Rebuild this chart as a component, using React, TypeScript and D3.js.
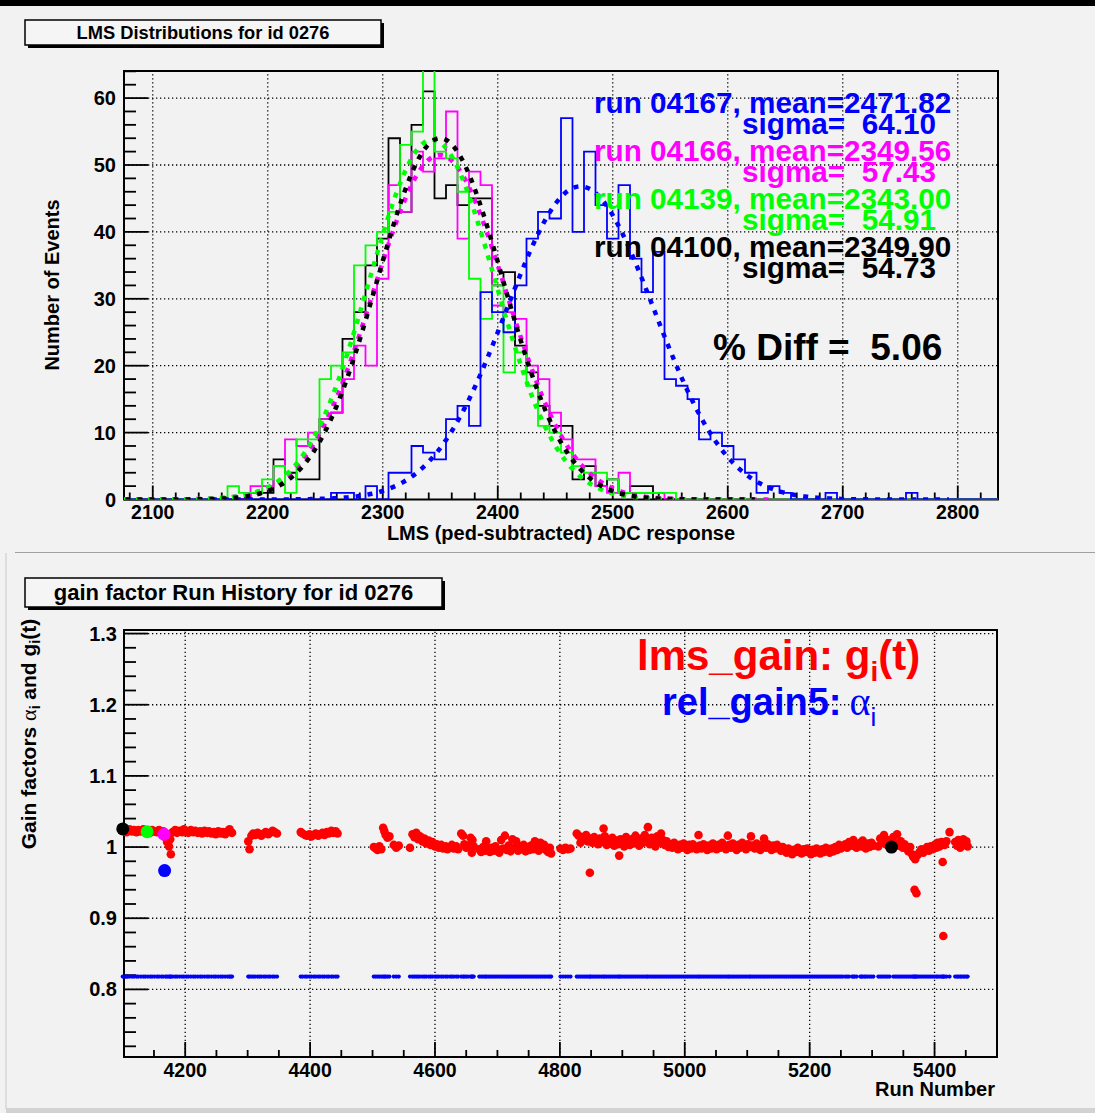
import React from 'react'
import * as d3 from 'd3'

const FONT = 'Liberation Sans, Arial, Helvetica, sans-serif'
const BG = '#f2f2f2'
const NBSP = '\u00a0'

// ---------- top pad: LMS distributions ----------
// 76 bins of width 10 starting at 2075 (bin 0 is centred at 2080)
const histLow = 2075
const histBinWidth = 10

const runNames = ['04100', '04139', '04166', '04167']
const runColors = ['#000000', '#00ff00', '#ff00ff', '#0000ff']

const counts04100 = [
  0, 0, 0, 0, 0, 0, 0, 0, 0, 0,
  0, 1, 1, 6, 4, 3, 3, 12, 13, 24,
  28, 35, 39, 54, 43, 56, 61, 45, 47, 44,
  45, 45, 32, 34, 23, 19, 14, 11, 11, 3,
  5, 2, 3, 1, 2, 2, 0, 0, 0, 0,
  0, 0, 0, 0, 0, 0, 0, 0, 0, 0,
  0, 0, 0, 0, 0, 0, 0, 0, 0, 0,
  0, 0, 0, 0, 0, 0,
]
const counts04139 = [
  0, 0, 0, 0, 0, 0, 0, 0, 0, 2,
  1, 1, 3, 5, 1, 9, 9, 18, 20, 22,
  35, 38, 40, 43, 53, 55, 66, 52, 51, 46,
  33, 27, 32, 19, 22, 17, 11, 10, 7, 5,
  4, 4, 3, 1, 1, 1, 1, 1, 0, 0,
  0, 0, 0, 0, 0, 0, 0, 0, 0, 0,
  0, 0, 0, 0, 0, 0, 0, 0, 0, 0,
  0, 0, 0, 0, 0, 0,
]
const counts04166 = [
  0, 0, 0, 0, 0, 0, 0, 0, 0, 0,
  0, 2, 2, 5, 9, 8, 10, 12, 13, 18,
  23, 20, 33, 47, 43, 52, 49, 51, 58, 39,
  49, 47, 29, 28, 27, 20, 18, 13, 9, 6,
  6, 2, 1, 4, 1, 1, 1, 0, 0, 0,
  0, 0, 0, 0, 0, 0, 0, 0, 0, 0,
  0, 0, 0, 0, 0, 0, 0, 0, 0, 0,
  0, 0, 0, 0, 0, 0,
]
const counts04167 = [
  0, 0, 0, 0, 0, 0, 0, 0, 0, 0,
  0, 0, 0, 0, 0, 0, 0, 0, 1, 1,
  0, 2, 0, 4, 4, 8, 7, 6, 12, 14,
  11, 31, 28, 25, 32, 39, 43, 42, 57, 40,
  52, 44, 39, 47, 36, 31, 37, 18, 17, 15,
  9, 10, 8, 6, 4, 1, 2, 1, 0, 0,
  0, 1, 0, 0, 0, 0, 0, 0, 1, 0,
  0, 0, 0, 0, 0, 0,
]
const allCounts = [counts04100, counts04139, counts04166, counts04167]

// gaussian fit results per run
const fitMean = [2349.9, 2343.0, 2349.56, 2471.82]
const fitSigma = [54.73, 54.91, 57.43, 64.1]
const fitConst = [54.0, 53.8, 51.5, 46.8]
const percentDiff = 5.06

const lmsTicks = [2100, 2200, 2300, 2400, 2500, 2600, 2700, 2800]
const countTicks = [0, 10, 20, 30, 40, 50, 60]

// ---------- bottom pad: gain history ----------
const segA = [[4100, 1.025], [4104, 1.026], [4106, 1.021], [4108, 1.023], [4111, 1.025], [4115, 1.022], [4118, 1.024], [4122, 1.021], [4125, 1.024], [4129, 1.022], [4133, 1.025], [4136, 1.021], [4140, 1.023], [4144, 1.02], [4147, 1.024], [4151, 1.022], [4155, 1.021], [4158, 1.024], [4162, 1.02], [4165, 1.022], [4169, 1.013], [4171, 1.007], [4174, 1.001], [4176, 1.011], [4177, 0.99], [4180, 1.021], [4184, 1.024], [4187, 1.02], [4191, 1.023], [4195, 1.021], [4198, 1.025], [4202, 1.022], [4205, 1.02], [4209, 1.024], [4213, 1.021], [4216, 1.023], [4220, 1.02], [4224, 1.022], [4227, 1.019], [4231, 1.023], [4235, 1.02], [4238, 1.022], [4242, 1.019], [4246, 1.021], [4249, 1.018], [4253, 1.022], [4257, 1.019], [4260, 1.021], [4264, 1.018], [4268, 1.022], [4271, 1.025], [4273, 1.021], [4275, 1.02]]
const segB = [[4301, 1.008], [4303, 0.997], [4306, 1.016], [4309, 1.019], [4312, 1.017], [4316, 1.02], [4319, 1.018], [4322, 1.016], [4326, 1.019], [4329, 1.021], [4333, 1.018], [4336, 1.02], [4340, 1.023], [4343, 1.021], [4347, 1.019]]
const segC = [[4385, 1.021], [4388, 1.019], [4392, 1.017], [4395, 1.016], [4399, 1.018], [4402, 1.015], [4406, 1.017], [4409, 1.019], [4413, 1.016], [4416, 1.018], [4420, 1.02], [4423, 1.017], [4427, 1.021], [4430, 1.019], [4434, 1.023], [4437, 1.02], [4441, 1.022], [4444, 1.019]]
const segD = [[4502, 1.0], [4505, 0.998], [4508, 0.996], [4511, 1.001], [4514, 0.997], [4517, 1.027], [4519, 1.022], [4521, 1.017], [4524, 1.013], [4527, 1.015], [4534, 1.003], [4538, 0.999], [4542, 1.002], [4560, 0.999], [4564, 1.018], [4567, 1.014], [4570, 1.02], [4573, 1.011], [4576, 1.015], [4580, 1.008], [4583, 1.012], [4586, 1.005], [4590, 1.009], [4593, 1.003], [4596, 1.007], [4600, 1.001], [4603, 1.004], [4606, 0.999], [4610, 1.003], [4613, 0.998], [4617, 1.001], [4620, 0.997], [4624, 1.0], [4627, 1.003], [4630, 0.998], [4634, 1.001], [4637, 0.997], [4642, 1.019], [4645, 1.016], [4647, 1.004], [4650, 0.999], [4653, 1.002], [4657, 1.013], [4659, 0.992], [4660, 1.01], [4662, 1.001]]
const segE = [[4671, 0.997], [4674, 0.993], [4677, 1.0], [4680, 0.995], [4682, 1.008], [4685, 0.998], [4688, 0.993], [4691, 0.999], [4694, 0.995], [4697, 1.001], [4700, 0.996], [4703, 0.992], [4706, 1.01], [4709, 0.998], [4712, 1.016], [4715, 0.996], [4718, 1.002], [4721, 0.994], [4724, 1.011], [4727, 0.999], [4730, 1.008], [4733, 0.995], [4736, 1.001], [4739, 0.997], [4742, 1.003], [4745, 0.994], [4748, 1.0], [4751, 0.996], [4754, 1.002], [4757, 0.997], [4760, 1.008], [4763, 1.0], [4766, 0.995], [4769, 1.006], [4772, 0.998], [4775, 1.003], [4778, 0.996], [4781, 0.993], [4784, 0.999], [4786, 0.991]]
const segF = [[4801, 0.998], [4805, 0.996], [4809, 0.999], [4813, 0.997], [4817, 0.998]]
const segG = [[4827, 1.019], [4830, 1.016], [4833, 1.006], [4836, 1.014], [4839, 1.01], [4842, 1.017], [4845, 1.008], [4848, 0.964], [4849, 1.012], [4852, 1.006], [4855, 1.014], [4858, 1.009], [4861, 1.004], [4864, 1.012], [4867, 1.007], [4870, 1.026], [4872, 1.015], [4875, 1.003], [4878, 1.01], [4881, 1.005], [4884, 1.013], [4887, 1.002], [4890, 1.009], [4893, 1.004], [4895, 0.988], [4897, 1.011], [4900, 1.006], [4903, 1.001], [4906, 1.014], [4909, 1.008], [4912, 1.003], [4915, 1.011], [4918, 1.005], [4921, 1.016], [4924, 1.009], [4927, 1.002], [4930, 1.012], [4933, 1.006], [4936, 1.017], [4939, 1.01], [4941, 1.028], [4944, 1.004], [4947, 1.013], [4950, 1.008], [4953, 1.001], [4956, 1.015], [4959, 1.006], [4962, 1.019], [4965, 1.01], [4968, 1.003], [4971, 1.008], [4974, 1.0]]
const segH = [[4977, 1.004], [4980, 0.999], [4983, 1.006], [4986, 1.001], [4989, 0.997], [4992, 1.003], [4995, 0.999], [4998, 1.005], [5001, 1.0], [5004, 0.996], [5007, 1.003], [5010, 0.998], [5013, 1.004], [5016, 1.0], [5019, 0.997], [5022, 1.017], [5024, 1.002], [5027, 0.998], [5030, 1.004], [5033, 1.0], [5036, 0.996], [5039, 1.002], [5042, 0.998], [5045, 1.005], [5048, 1.0], [5051, 0.997], [5054, 1.003], [5057, 0.999], [5060, 1.006], [5063, 1.001], [5066, 0.997], [5069, 1.016], [5071, 1.003], [5074, 0.999], [5077, 1.005], [5080, 1.0], [5083, 0.996], [5086, 1.003], [5089, 0.999], [5092, 1.006], [5095, 1.001], [5098, 0.997], [5101, 1.004], [5104, 1.0], [5106, 1.015], [5109, 1.002], [5112, 0.998], [5115, 1.005], [5118, 1.0], [5121, 0.996], [5124, 1.003], [5127, 1.012], [5130, 0.999], [5133, 1.004], [5136, 1.0], [5139, 0.996], [5142, 1.002], [5145, 0.998], [5148, 1.003], [5151, 0.999], [5154, 0.995], [5157, 1.0]]
const segI = [[5160, 0.996], [5163, 0.992], [5166, 0.998], [5169, 0.994], [5172, 0.99], [5175, 0.996], [5178, 0.993], [5181, 0.999], [5184, 0.994], [5187, 0.991], [5190, 0.997], [5193, 0.993], [5196, 0.998], [5199, 0.994], [5202, 0.99], [5205, 0.996], [5208, 0.992], [5211, 0.998], [5214, 0.995], [5217, 0.991], [5220, 0.997], [5223, 0.993], [5226, 0.999], [5229, 0.995], [5232, 0.992], [5235, 0.998], [5238, 0.994], [5241, 1.0], [5244, 0.996], [5247, 1.003], [5250, 0.998], [5253, 1.001]]
const segJ = [[5257, 1.004], [5260, 0.999], [5263, 1.007], [5268, 1.002], [5270, 1.01], [5272, 1.004], [5275, 0.999], [5281, 1.006], [5283, 1.001], [5285, 1.009], [5288, 1.003], [5290, 0.998], [5293, 1.005], [5296, 1.0], [5299, 1.006], [5302, 1.002]]
const segK = [[5310, 1.001], [5313, 1.012], [5316, 1.006], [5319, 1.017], [5322, 1.004], [5325, 1.01], [5328, 1.0], [5334, 1.014], [5337, 1.005], [5340, 1.018], [5343, 1.002], [5346, 1.008], [5349, 0.999], [5352, 1.004]]
const segL = [[5355, 0.998], [5358, 0.994], [5361, 1.0], [5364, 0.99], [5366, 0.986], [5368, 0.94], [5369, 0.983], [5371, 0.935], [5373, 0.989], [5376, 0.993], [5379, 0.997], [5382, 0.992], [5385, 0.996], [5388, 1.0], [5391, 0.995], [5394, 1.001], [5397, 0.997], [5400, 1.003], [5403, 0.999], [5405, 1.006], [5408, 1.001], [5411, 1.007], [5413, 0.979], [5414, 0.875], [5416, 1.003], [5419, 1.008], [5424, 1.021]]
const segM = [[5433, 1.007], [5436, 1.002], [5438, 1.01], [5441, 0.999], [5443, 1.005], [5446, 1.011], [5448, 1.003], [5451, 1.008], [5453, 1.001]]
const lmsGainPoints = [segA, segB, segC, segD, segE, segF, segG, segH, segI, segJ, segK, segL, segM].flat()

const relGainAlpha = 0.818

const markedRuns = [
  { run: 4100, gain: 1.0255, color: '#000000' },
  { run: 4139, gain: 1.0215, color: '#00ff00' },
  { run: 4166, gain: 1.018, color: '#ff00ff' },
  { run: 4167, gain: 0.967, color: '#0000ff' },
  { run: 5331, gain: 1.0, color: '#000000' },
]

const runTicks = [4200, 4400, 4600, 4800, 5000, 5200, 5400]
const gainTicks = [0.8, 0.9, 1, 1.1, 1.2, 1.3]

// ---------- scales ----------
const hx = d3.scaleLinear().domain([2075, 2835]).range([124, 998])
const hy = d3.scaleLinear().domain([0, 64.05]).range([499.5, 71])
const gx = d3.scaleLinear().domain([4102, 5500]).range([124, 997])
const gy = d3.scaleLinear().domain([0.705, 1.305]).range([1057, 630])

const histLine = d3.line<number[]>().x(d => hx(d[0])).y(d => hy(d[1])).curve(d3.curveStepAfter)
const fitLine = d3.line<number[]>().x(d => hx(d[0])).y(d => hy(d[1]))

const histPath = (counts: number[]) => {
  const n = counts.length
  const pts = [[histLow, 0]]
  counts.forEach((c, i) => pts.push([histLow + i * histBinWidth, c]))
  pts.push([histLow + n * histBinWidth, counts[n - 1]])
  pts.push([histLow + n * histBinWidth, 0])
  return histLine(pts) || ''
}

const fitPath = (i: number) => {
  const lo = Math.max(2075, fitMean[i] - 5 * fitSigma[i])
  const hi = Math.min(2835, fitMean[i] + 5 * fitSigma[i])
  const pts = d3.range(lo, hi, 1).concat([hi]).map(x => {
    const z = (x - fitMean[i]) / fitSigma[i]
    return [x, fitConst[i] * Math.exp(-0.5 * z * z)]
  })
  return fitLine(pts) || ''
}

// keep runs of spaces visible inside svg text
const pre = (s: string) => s.replace(/ /g, NBSP)

const dot = '1.3 2.7'

const TitleBox = ({ x, y, w, h, text, size, base }) => (
  <g>
    <rect x={x + 3} y={y + 3} width={w} height={h} fill="#000" />
    <rect x={x} y={y} width={w} height={h} fill="#f5f5f5" stroke="#000" strokeWidth={1.5} />
    <text x={x + w / 2} y={base} textAnchor="middle" fontFamily={FONT} fontWeight="bold" fontSize={size}>
      {text}
    </text>
  </g>
)

const TopPad = () => {
  const [x0, x1] = hx.range()
  const [y0, y1] = hy.range()
  const minorX = d3.range(2080, 2835, 20).filter(v => v % 100 !== 0)
  const minorY = d3.range(0, 64.05, 2).filter(v => v % 10 !== 0)
  const order = [3, 2, 1, 0]
  return (
    <g>
      <defs>
        <clipPath id="topclip">
          <rect x={x0} y={y1} width={x1 - x0} height={y0 - y1} />
        </clipPath>
      </defs>
      {/* grid */}
      {lmsTicks.map(t => (
        <line key={'gx' + t} x1={hx(t)} x2={hx(t)} y1={y0} y2={y1} stroke="#000" strokeWidth={1.3} strokeDasharray={dot} />
      ))}
      {countTicks.filter(t => t > 0).map(t => (
        <line key={'gy' + t} x1={x0} x2={x1} y1={hy(t)} y2={hy(t)} stroke="#000" strokeWidth={1.3} strokeDasharray={dot} />
      ))}
      {/* ticks */}
      {lmsTicks.map(t => (
        <line key={'tx' + t} x1={hx(t)} x2={hx(t)} y1={y0} y2={y0 - 14} stroke="#000" strokeWidth={1.8} />
      ))}
      {minorX.map(t => (
        <line key={'mx' + t} x1={hx(t)} x2={hx(t)} y1={y0} y2={y0 - 7} stroke="#000" strokeWidth={1.8} />
      ))}
      {countTicks.map(t => (
        <line key={'ty' + t} x1={x0} x2={x0 + 24} y1={hy(t)} y2={hy(t)} stroke="#000" strokeWidth={1.8} />
      ))}
      {minorY.map(t => (
        <line key={'my' + t} x1={x0} x2={x0 + 12} y1={hy(t)} y2={hy(t)} stroke="#000" strokeWidth={1.8} />
      ))}
      <rect x={x0} y={y1} width={x1 - x0} height={y0 - y1} fill="none" stroke="#000" strokeWidth={2} />
      {/* histograms and fits */}
      <g clipPath="url(#topclip)">
        {[0, 2, 1, 3].map(i => (
          <path key={'h' + i} d={histPath(allCounts[i])} fill="none" stroke={runColors[i]} strokeWidth={1.8} />
        ))}
        {[2, 1, 3, 0].map(i => (
          <path key={'f' + i} d={fitPath(i)} fill="none" stroke={runColors[i]} strokeWidth={4.5} strokeDasharray="5 7" />
        ))}
      </g>
      {/* labels */}
      {lmsTicks.map(t => (
        <text key={'lx' + t} x={hx(t)} y={519} textAnchor="middle" fontFamily={FONT} fontWeight="bold" fontSize={19.5}>{t}</text>
      ))}
      {countTicks.map(t => (
        <text key={'ly' + t} x={116} y={hy(t) + 7} textAnchor="end" fontFamily={FONT} fontWeight="bold" fontSize={20}>{t}</text>
      ))}
      <text x={(x0 + x1) / 2} y={540} textAnchor="middle" fontFamily={FONT} fontWeight="bold" fontSize={20}>
        LMS (ped-subtracted) ADC response
      </text>
      <text transform="translate(59,285) rotate(-90)" textAnchor="middle" fontFamily={FONT} fontWeight="bold" fontSize={20}>
        Number of Events
      </text>
      {order.map((i, k) => (
        <g key={'leg' + i} fill={runColors[i]} fontFamily={FONT} fontWeight="bold" fontSize={29.7}>
          <text x={594} y={113 + 48 * k}>{pre(`run ${runNames[i]}, mean=${fitMean[i].toFixed(2)}`)}</text>
          <text x={742} y={134 + 48 * k}>{pre(`sigma=${fitSigma[i].toFixed(2).padStart(7)}`)}</text>
        </g>
      ))}
      <text x={713} y={360} fontFamily={FONT} fontWeight="bold" fontSize={37}>
        {pre(`% Diff = ${percentDiff.toFixed(2).padStart(5)}`)}
      </text>
      <TitleBox x={25} y={20} w={356} h={25} text="LMS Distributions for id 0276" size={18.3} base={39} />
    </g>
  )
}

const BottomPad = () => {
  const [x0, x1] = gx.range()
  const [y0, y1] = gy.range()
  const minorX = d3.range(4150, 5500, 50).filter(v => v % 200 !== 0)
  const minorY = d3.range(72, 131, 2).map(v => v / 100).filter(v => Math.round(v * 100) % 10 !== 0)
  return (
    <g>
      {runTicks.map(t => (
        <line key={'gx' + t} x1={gx(t)} x2={gx(t)} y1={y0} y2={y1} stroke="#000" strokeWidth={1.3} strokeDasharray={dot} />
      ))}
      {gainTicks.map(t => (
        <line key={'gy' + t} x1={x0} x2={x1} y1={gy(t)} y2={gy(t)} stroke="#000" strokeWidth={1.3} strokeDasharray={dot} />
      ))}
      {runTicks.map(t => (
        <line key={'tx' + t} x1={gx(t)} x2={gx(t)} y1={y0} y2={y0 - 15} stroke="#000" strokeWidth={1.8} />
      ))}
      {minorX.map(t => (
        <line key={'mx' + t} x1={gx(t)} x2={gx(t)} y1={y0} y2={y0 - 7} stroke="#000" strokeWidth={1.8} />
      ))}
      {gainTicks.map(t => (
        <line key={'ty' + t} x1={x0} x2={x0 + 24} y1={gy(t)} y2={gy(t)} stroke="#000" strokeWidth={1.8} />
      ))}
      {minorY.map(t => (
        <line key={'my' + t} x1={x0} x2={x0 + 12} y1={gy(t)} y2={gy(t)} stroke="#000" strokeWidth={1.8} />
      ))}
      <rect x={x0} y={y1} width={x1 - x0} height={y0 - y1} fill="none" stroke="#000" strokeWidth={2} />
      {/* rel gain alpha */}
      {lmsGainPoints.map((p, i) => (
        <circle key={'a' + i} cx={gx(p[0])} cy={gy(relGainAlpha)} r={2.1} fill="#0000ff" />
      ))}
      {/* lms gain */}
      {lmsGainPoints.map((p, i) => (
        <circle key={'g' + i} cx={gx(p[0])} cy={gy(p[1])} r={4.3} fill="#ff0000" />
      ))}
      {markedRuns.map(m => (
        <circle key={'m' + m.run + m.color} cx={gx(m.run)} cy={gy(m.gain)} r={6.5} fill={m.color} />
      ))}
      {runTicks.map(t => (
        <text key={'lx' + t} x={gx(t)} y={1077} textAnchor="middle" fontFamily={FONT} fontWeight="bold" fontSize={19.5}>{t}</text>
      ))}
      {gainTicks.map(t => (
        <text key={'ly' + t} x={117} y={gy(t) + 7} textAnchor="end" fontFamily={FONT} fontWeight="bold" fontSize={20}>{String(t)}</text>
      ))}
      <text x={995} y={1096} textAnchor="end" fontFamily={FONT} fontWeight="bold" fontSize={20}>Run Number</text>
      <text transform="translate(36,734) rotate(-90)" textAnchor="middle" fontFamily={FONT} fontWeight="bold" fontSize={21}>
        <tspan>{pre('Gain factors ')}</tspan>
        <tspan fontFamily="Liberation Serif, serif" fontWeight="normal" fontSize={22}>α</tspan>
        <tspan fontSize={14} dy={4}>i</tspan>
        <tspan dy={-4}>{pre(' and g')}</tspan>
        <tspan fontSize={14} dy={4}>i</tspan>
        <tspan dy={-4}>(t)</tspan>
      </text>
      <text x={637} y={670} fill="#ff0000" fontFamily={FONT} fontWeight="bold" fontSize={42}>
        <tspan>lms_gain: g</tspan>
        <tspan fontSize={28} dy={11}>i</tspan>
        <tspan dy={-11}>(t)</tspan>
      </text>
      <text x={662} y={715} fill="#0000ff" fontFamily={FONT} fontWeight="bold" fontSize={38}>
        <tspan>rel_gain5:</tspan>
        <tspan fontFamily="Liberation Serif, serif" fontWeight="normal" fontSize={40} dx={8}>α</tspan>
        <tspan fontWeight="normal" fontSize={26} dy={11}>i</tspan>
      </text>
      <TitleBox x={25} y={578} w={417} h={29} text="gain factor Run History for id 0276" size={22} base={600} />
    </g>
  )
}

export default function App() {
  return (
    <div style={{ position: 'absolute', left: 0, top: 0 }}>
      <svg width={1095} height={1113} style={{ display: 'block' }}>
        <rect width={1095} height={1113} fill={BG} />
        <rect width={1095} height={6} fill="#000" />
        <line x1={15} x2={1095} y1={552.5} y2={552.5} stroke="#a0a0a0" strokeWidth={1} />
        <line x1={6} x2={6} y1={553} y2={1109} stroke="#c8c8c8" strokeWidth={1} />
        <rect x={6} y={1108} width={1089} height={5} fill="#d2d2d2" />
        <TopPad />
        <BottomPad />
      </svg>
    </div>
  )
}
